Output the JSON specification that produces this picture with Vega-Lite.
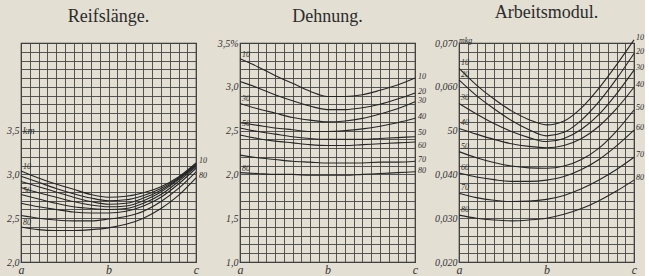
{
  "$schema": "https://vega.github.io/schema/vega-lite/v6.json",
  "padding": {"left": 5, "top": 3, "right": 0, "bottom": 0},
  "bounds": "flush",
  "spacing": 44,
  "datasets": {
    "reif": [
      {"curve":10,"x":0,"y":3.04},{"curve":10,"x":2,"y":2.96},{"curve":10,"x":4,"y":2.89},{"curve":10,"x":6,"y":2.83},{"curve":10,"x":8,"y":2.77},{"curve":10,"x":10,"y":2.74},{"curve":10,"x":12,"y":2.75},{"curve":10,"x":14,"y":2.79},{"curve":10,"x":16,"y":2.86},{"curve":10,"x":18,"y":2.97},{"curve":10,"x":20,"y":3.13},
      {"curve":20,"x":0,"y":2.98},{"curve":20,"x":2,"y":2.91},{"curve":20,"x":4,"y":2.84},{"curve":20,"x":6,"y":2.78},{"curve":20,"x":8,"y":2.73},{"curve":20,"x":10,"y":2.70},{"curve":20,"x":12,"y":2.71},{"curve":20,"x":14,"y":2.76},{"curve":20,"x":16,"y":2.84},{"curve":20,"x":18,"y":2.96},{"curve":20,"x":20,"y":3.12},
      {"curve":30,"x":0,"y":2.92},{"curve":30,"x":2,"y":2.86},{"curve":30,"x":4,"y":2.80},{"curve":30,"x":6,"y":2.74},{"curve":30,"x":8,"y":2.69},{"curve":30,"x":10,"y":2.66},{"curve":30,"x":12,"y":2.67},{"curve":30,"x":14,"y":2.73},{"curve":30,"x":16,"y":2.82},{"curve":30,"x":18,"y":2.95},{"curve":30,"x":20,"y":3.11},
      {"curve":40,"x":0,"y":2.85},{"curve":40,"x":2,"y":2.79},{"curve":40,"x":4,"y":2.74},{"curve":40,"x":6,"y":2.69},{"curve":40,"x":8,"y":2.65},{"curve":40,"x":10,"y":2.63},{"curve":40,"x":12,"y":2.64},{"curve":40,"x":14,"y":2.70},{"curve":40,"x":16,"y":2.80},{"curve":40,"x":18,"y":2.94},{"curve":40,"x":20,"y":3.10},
      {"curve":50,"x":0,"y":2.77},{"curve":50,"x":2,"y":2.72},{"curve":50,"x":4,"y":2.67},{"curve":50,"x":6,"y":2.63},{"curve":50,"x":8,"y":2.61},{"curve":50,"x":10,"y":2.60},{"curve":50,"x":12,"y":2.61},{"curve":50,"x":14,"y":2.67},{"curve":50,"x":16,"y":2.77},{"curve":50,"x":18,"y":2.92},{"curve":50,"x":20,"y":3.09},
      {"curve":60,"x":0,"y":2.67},{"curve":60,"x":2,"y":2.63},{"curve":60,"x":4,"y":2.60},{"curve":60,"x":6,"y":2.57},{"curve":60,"x":8,"y":2.56},{"curve":60,"x":10,"y":2.56},{"curve":60,"x":12,"y":2.58},{"curve":60,"x":14,"y":2.64},{"curve":60,"x":16,"y":2.74},{"curve":60,"x":18,"y":2.89},{"curve":60,"x":20,"y":3.07},
      {"curve":70,"x":0,"y":2.53},{"curve":70,"x":2,"y":2.50},{"curve":70,"x":4,"y":2.48},{"curve":70,"x":6,"y":2.47},{"curve":70,"x":8,"y":2.47},{"curve":70,"x":10,"y":2.49},{"curve":70,"x":12,"y":2.52},{"curve":70,"x":14,"y":2.58},{"curve":70,"x":16,"y":2.69},{"curve":70,"x":18,"y":2.84},{"curve":70,"x":20,"y":3.03},
      {"curve":80,"x":0,"y":2.40},{"curve":80,"x":2,"y":2.37},{"curve":80,"x":4,"y":2.36},{"curve":80,"x":6,"y":2.36},{"curve":80,"x":8,"y":2.37},{"curve":80,"x":10,"y":2.39},{"curve":80,"x":12,"y":2.43},{"curve":80,"x":14,"y":2.50},{"curve":80,"x":16,"y":2.61},{"curve":80,"x":18,"y":2.76},{"curve":80,"x":20,"y":2.96}
    ],
    "dehn": [
      {"curve":10,"x":0,"y":3.32},{"curve":10,"x":2,"y":3.23},{"curve":10,"x":4,"y":3.13},{"curve":10,"x":6,"y":3.04},{"curve":10,"x":8,"y":2.95},{"curve":10,"x":10,"y":2.89},{"curve":10,"x":12,"y":2.89},{"curve":10,"x":14,"y":2.91},{"curve":10,"x":16,"y":2.96},{"curve":10,"x":18,"y":3.02},{"curve":10,"x":20,"y":3.10},
      {"curve":20,"x":0,"y":3.06},{"curve":20,"x":2,"y":2.99},{"curve":20,"x":4,"y":2.91},{"curve":20,"x":6,"y":2.84},{"curve":20,"x":8,"y":2.78},{"curve":20,"x":10,"y":2.74},{"curve":20,"x":12,"y":2.74},{"curve":20,"x":14,"y":2.76},{"curve":20,"x":16,"y":2.80},{"curve":20,"x":18,"y":2.86},{"curve":20,"x":20,"y":2.93},
      {"curve":30,"x":0,"y":2.81},{"curve":30,"x":2,"y":2.75},{"curve":30,"x":4,"y":2.70},{"curve":30,"x":6,"y":2.65},{"curve":30,"x":8,"y":2.62},{"curve":30,"x":10,"y":2.60},{"curve":30,"x":12,"y":2.61},{"curve":30,"x":14,"y":2.64},{"curve":30,"x":16,"y":2.69},{"curve":30,"x":18,"y":2.75},{"curve":30,"x":20,"y":2.83},
      {"curve":40,"x":0,"y":2.59},{"curve":40,"x":2,"y":2.56},{"curve":40,"x":4,"y":2.53},{"curve":40,"x":6,"y":2.51},{"curve":40,"x":8,"y":2.49},{"curve":40,"x":10,"y":2.49},{"curve":40,"x":12,"y":2.50},{"curve":40,"x":14,"y":2.52},{"curve":40,"x":16,"y":2.55},{"curve":40,"x":18,"y":2.59},{"curve":40,"x":20,"y":2.64},
      {"curve":50,"x":0,"y":2.53},{"curve":50,"x":2,"y":2.49},{"curve":50,"x":4,"y":2.46},{"curve":50,"x":6,"y":2.43},{"curve":50,"x":8,"y":2.41},{"curve":50,"x":10,"y":2.40},{"curve":50,"x":12,"y":2.40},{"curve":50,"x":14,"y":2.40},{"curve":50,"x":16,"y":2.41},{"curve":50,"x":18,"y":2.42},{"curve":50,"x":20,"y":2.43},
      {"curve":60,"x":0,"y":2.45},{"curve":60,"x":2,"y":2.41},{"curve":60,"x":4,"y":2.38},{"curve":60,"x":6,"y":2.36},{"curve":60,"x":8,"y":2.34},{"curve":60,"x":10,"y":2.33},{"curve":60,"x":12,"y":2.33},{"curve":60,"x":14,"y":2.34},{"curve":60,"x":16,"y":2.35},{"curve":60,"x":18,"y":2.36},{"curve":60,"x":20,"y":2.37},
      {"curve":70,"x":0,"y":2.22},{"curve":70,"x":2,"y":2.19},{"curve":70,"x":4,"y":2.17},{"curve":70,"x":6,"y":2.15},{"curve":70,"x":8,"y":2.14},{"curve":70,"x":10,"y":2.13},{"curve":70,"x":12,"y":2.13},{"curve":70,"x":14,"y":2.13},{"curve":70,"x":16,"y":2.14},{"curve":70,"x":18,"y":2.14},{"curve":70,"x":20,"y":2.15},
      {"curve":80,"x":0,"y":2.02},{"curve":80,"x":2,"y":2.01},{"curve":80,"x":4,"y":2.00},{"curve":80,"x":6,"y":2.00},{"curve":80,"x":8,"y":1.99},{"curve":80,"x":10,"y":1.99},{"curve":80,"x":12,"y":1.99},{"curve":80,"x":14,"y":2.00},{"curve":80,"x":16,"y":2.01},{"curve":80,"x":18,"y":2.02},{"curve":80,"x":20,"y":2.03}
    ],
    "arbeit": [
      {"curve":10,"x":0,"y":0.0642},{"curve":10,"x":2,"y":0.0604},{"curve":10,"x":4,"y":0.0572},{"curve":10,"x":6,"y":0.0545},{"curve":10,"x":8,"y":0.0525},{"curve":10,"x":10,"y":0.0513},{"curve":10,"x":12,"y":0.0522},{"curve":10,"x":14,"y":0.0552},{"curve":10,"x":16,"y":0.0597},{"curve":10,"x":18,"y":0.0650},{"curve":10,"x":20,"y":0.0707},
      {"curve":20,"x":0,"y":0.0616},{"curve":20,"x":2,"y":0.0580},{"curve":20,"x":4,"y":0.0550},{"curve":20,"x":6,"y":0.0523},{"curve":20,"x":8,"y":0.0502},{"curve":20,"x":10,"y":0.0488},{"curve":20,"x":12,"y":0.0496},{"curve":20,"x":14,"y":0.0524},{"curve":20,"x":16,"y":0.0566},{"curve":20,"x":18,"y":0.0618},{"curve":20,"x":20,"y":0.0676},
      {"curve":30,"x":0,"y":0.0562},{"curve":30,"x":2,"y":0.0538},{"curve":30,"x":4,"y":0.0516},{"curve":30,"x":6,"y":0.0498},{"curve":30,"x":8,"y":0.0484},{"curve":30,"x":10,"y":0.0475},{"curve":30,"x":12,"y":0.0482},{"curve":30,"x":14,"y":0.0503},{"curve":30,"x":16,"y":0.0537},{"curve":30,"x":18,"y":0.0584},{"curve":30,"x":20,"y":0.0638},
      {"curve":40,"x":0,"y":0.0505},{"curve":40,"x":2,"y":0.0492},{"curve":40,"x":4,"y":0.0480},{"curve":40,"x":6,"y":0.0470},{"curve":40,"x":8,"y":0.0464},{"curve":40,"x":10,"y":0.0461},{"curve":40,"x":12,"y":0.0466},{"curve":40,"x":14,"y":0.0482},{"curve":40,"x":16,"y":0.0510},{"curve":40,"x":18,"y":0.0550},{"curve":40,"x":20,"y":0.0599},
      {"curve":50,"x":0,"y":0.0452},{"curve":50,"x":2,"y":0.0438},{"curve":50,"x":4,"y":0.0427},{"curve":50,"x":6,"y":0.0419},{"curve":50,"x":8,"y":0.0415},{"curve":50,"x":10,"y":0.0414},{"curve":50,"x":12,"y":0.0419},{"curve":50,"x":14,"y":0.0434},{"curve":50,"x":16,"y":0.0460},{"curve":50,"x":18,"y":0.0499},{"curve":50,"x":20,"y":0.0547},
      {"curve":60,"x":0,"y":0.0403},{"curve":60,"x":2,"y":0.0394},{"curve":60,"x":4,"y":0.0388},{"curve":60,"x":6,"y":0.0384},{"curve":60,"x":8,"y":0.0384},{"curve":60,"x":10,"y":0.0387},{"curve":60,"x":12,"y":0.0395},{"curve":60,"x":14,"y":0.0411},{"curve":60,"x":16,"y":0.0434},{"curve":60,"x":18,"y":0.0465},{"curve":60,"x":20,"y":0.0501},
      {"curve":70,"x":0,"y":0.0357},{"curve":70,"x":2,"y":0.0347},{"curve":70,"x":4,"y":0.0341},{"curve":70,"x":6,"y":0.0338},{"curve":70,"x":8,"y":0.0339},{"curve":70,"x":10,"y":0.0343},{"curve":70,"x":12,"y":0.0352},{"curve":70,"x":14,"y":0.0367},{"curve":70,"x":16,"y":0.0387},{"curve":70,"x":18,"y":0.0411},{"curve":70,"x":20,"y":0.0439},
      {"curve":80,"x":0,"y":0.0307},{"curve":80,"x":2,"y":0.0300},{"curve":80,"x":4,"y":0.0296},{"curve":80,"x":6,"y":0.0294},{"curve":80,"x":8,"y":0.0296},{"curve":80,"x":10,"y":0.0300},{"curve":80,"x":12,"y":0.0309},{"curve":80,"x":14,"y":0.0322},{"curve":80,"x":16,"y":0.0340},{"curve":80,"x":18,"y":0.0362},{"curve":80,"x":20,"y":0.0387}
    ]
  },
  "hconcat": [
    {
      "width": 175, "height": 219,
      "title": "Reifslänge.",
      "data": {"name": "reif"},
      "encoding": {
        "x": {"field": "x", "type": "quantitative", "scale": {"domain": [0, 20], "nice": false},
              "axis": {"values": [0,1,2,3,4,5,6,7,8,9,10,11,12,13,14,15,16,17,18,19,20], "labelFontSize": 12, "labelExpr": "datum.value==0?'a':datum.value==10?'b':datum.value==20?'c':''"}},
        "y": {"field": "y", "type": "quantitative", "scale": {"domain": [2.0, 4.5], "nice": false, "zero": false},
              "axis": {"values": [2.0,2.1,2.2,2.3,2.4,2.5,2.6,2.7,2.8,2.9,3.0,3.1,3.2,3.3,3.4,3.5,3.6,3.7,3.8,3.9,4.0,4.1,4.2,4.3,4.4,4.5],
                       "labelExpr": "indexof(['2.0','2.5','3.0','3.5'], format(datum.value,'.1f'))>=0 ? replace(format(datum.value,'.1f'),'.',',') : ''"}}
      },
      "layer": [
        {"mark": {"type": "line", "interpolate": "monotone", "color": "#262626", "strokeWidth": 1.1},
         "encoding": {"detail": {"field": "curve"}}},
        {"transform": [{"filter": "datum.x==0 && (datum.curve==10 || datum.curve==50 || datum.curve==80)"}],
         "mark": {"type": "text", "align": "left", "dx": 2, "dy": -4, "fontSize": 8, "fontStyle": "italic", "fill": "#2a2a2a"},
         "encoding": {"text": {"field": "curve"}}},
        {"transform": [{"filter": "datum.x==20 && (datum.curve==10 || datum.curve==80)"}],
         "mark": {"type": "text", "align": "left", "dx": 3, "dy": -2, "fontSize": 8, "fontStyle": "italic", "fill": "#2a2a2a"},
         "encoding": {"text": {"field": "curve"}}},
        {"transform": [{"filter": "datum.x==0 && datum.curve==10"}],
         "mark": {"type": "text", "align": "left", "baseline": "middle", "dx": 2, "fontSize": 10, "fontStyle": "italic", "fill": "#2a2a2a"},
         "encoding": {"x": {"datum": 0}, "y": {"datum": 3.5}, "text": {"value": "km"}}}
      ]
    },
    {
      "width": 175, "height": 219,
      "title": "Dehnung.",
      "data": {"name": "dehn"},
      "encoding": {
        "x": {"field": "x", "type": "quantitative", "scale": {"domain": [0, 20], "nice": false},
              "axis": {"values": [0,1,2,3,4,5,6,7,8,9,10,11,12,13,14,15,16,17,18,19,20], "labelFontSize": 12, "labelExpr": "datum.value==0?'a':datum.value==10?'b':datum.value==20?'c':''"}},
        "y": {"field": "y", "type": "quantitative", "scale": {"domain": [1.0, 3.5], "nice": false, "zero": false},
              "axis": {"values": [1.0,1.1,1.2,1.3,1.4,1.5,1.6,1.7,1.8,1.9,2.0,2.1,2.2,2.3,2.4,2.5,2.6,2.7,2.8,2.9,3.0,3.1,3.2,3.3,3.4,3.5],
                       "labelExpr": "format(datum.value,'.1f')=='3.5' ? '3,5%' : indexof(['1.0','1.5','2.0','2.5','3.0'], format(datum.value,'.1f'))>=0 ? replace(format(datum.value,'.1f'),'.',',') : ''"}}
      },
      "layer": [
        {"mark": {"type": "line", "interpolate": "monotone", "color": "#262626", "strokeWidth": 1.1},
         "encoding": {"detail": {"field": "curve"}}},
        {"transform": [{"filter": "datum.x==0 && (datum.curve==10 || datum.curve==30 || datum.curve==50 || datum.curve==80)"}],
         "mark": {"type": "text", "align": "left", "dx": 2, "dy": -4, "fontSize": 8, "fontStyle": "italic", "fill": "#2a2a2a"},
         "encoding": {"text": {"field": "curve"}}},
        {"transform": [{"filter": "datum.x==20 && datum.curve!=50 && datum.curve!=60"}],
         "mark": {"type": "text", "align": "left", "dx": 3, "dy": -1, "fontSize": 8, "fontStyle": "italic", "fill": "#2a2a2a"},
         "encoding": {"text": {"field": "curve"}}},
        {"transform": [{"filter": "datum.x==20 && datum.curve==50"}],
         "mark": {"type": "text", "align": "left", "dx": 3, "dy": -4, "fontSize": 8, "fontStyle": "italic", "fill": "#2a2a2a"},
         "encoding": {"text": {"field": "curve"}}},
        {"transform": [{"filter": "datum.x==20 && datum.curve==60"}],
         "mark": {"type": "text", "align": "left", "dx": 3, "dy": 4, "fontSize": 8, "fontStyle": "italic", "fill": "#2a2a2a"},
         "encoding": {"text": {"field": "curve"}}}
      ]
    },
    {
      "width": 175, "height": 219,
      "title": "Arbeitsmodul.",
      "data": {"name": "arbeit"},
      "encoding": {
        "x": {"field": "x", "type": "quantitative", "scale": {"domain": [0, 20], "nice": false},
              "axis": {"values": [0,1,2,3,4,5,6,7,8,9,10,11,12,13,14,15,16,17,18,19,20], "labelFontSize": 12, "labelExpr": "datum.value==0?'a':datum.value==10?'b':datum.value==20?'c':''"}},
        "y": {"field": "y", "type": "quantitative", "scale": {"domain": [0.02, 0.07], "nice": false, "zero": false},
              "axis": {"values": [0.020,0.022,0.024,0.026,0.028,0.030,0.032,0.034,0.036,0.038,0.040,0.042,0.044,0.046,0.048,0.050,0.052,0.054,0.056,0.058,0.060,0.062,0.064,0.066,0.068,0.070],
                       "labelExpr": "format(datum.value,'.3f')=='0.050' ? '50' : indexof(['0.020','0.030','0.040','0.060','0.070'], format(datum.value,'.3f'))>=0 ? replace(format(datum.value,'.3f'),'.',',') : ''"}}
      },
      "layer": [
        {"mark": {"type": "line", "interpolate": "monotone", "color": "#262626", "strokeWidth": 1.1},
         "encoding": {"detail": {"field": "curve"}}},
        {"transform": [{"filter": "datum.x==0"}],
         "mark": {"type": "text", "align": "left", "dx": 2, "dy": -5, "fontSize": 8, "fontStyle": "italic", "fill": "#2a2a2a"},
         "encoding": {"text": {"field": "curve"}}},
        {"transform": [{"filter": "datum.x==20"}],
         "mark": {"type": "text", "align": "left", "dx": 2, "dy": -2, "fontSize": 8, "fontStyle": "italic", "fill": "#2a2a2a"},
         "encoding": {"text": {"field": "curve"}}},
        {"transform": [{"filter": "datum.x==0 && datum.curve==10"}],
         "mark": {"type": "text", "align": "left", "baseline": "middle", "dx": 0, "dy": -2, "fontSize": 8, "fontStyle": "italic", "fill": "#2a2a2a"},
         "encoding": {"x": {"datum": 0}, "y": {"datum": 0.07}, "text": {"value": "mkg"}}}
      ]
    }
  ],
  "config": {
    "background": "#e3dfd3",
    "font": "Liberation Serif",
    "view": {"stroke": "#2a2a2a", "strokeWidth": 1.2},
    "axis": {"grid": true, "gridColor": "#444", "gridWidth": 0.9, "gridOpacity": 1, "domain": false, "ticks": false,
             "labelFont": "Liberation Serif", "labelFontStyle": "italic", "labelColor": "#333", "labelFontSize": 10,
             "labelPadding": 2, "title": null, "labelOverlap": false, "labelBound": false, "labelFlush": false},
    "title": {"font": "Liberation Serif", "fontSize": 18, "fontWeight": "normal", "color": "#2b2b2b", "offset": 12}
  }
}
